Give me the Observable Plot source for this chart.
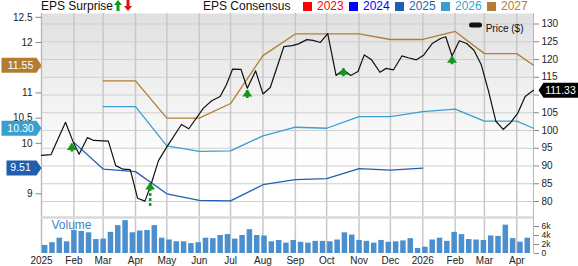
<!DOCTYPE html>
<html><head><meta charset="utf-8">
<script src="https://cdn.jsdelivr.net/npm/d3@7"></script>
<script src="https://cdn.jsdelivr.net/npm/@observablehq/plot@0.6"></script>
<style>
body{margin:0;background:#fff;font-family:"Liberation Sans",Arial,sans-serif;}
#chart{position:relative;width:578px;height:266px;overflow:hidden;}
#legend{position:absolute;left:0;top:0;width:578px;height:13px;font-size:12px;line-height:13px;color:#111;}
#legend span{position:absolute;top:0;white-space:nowrap;}
.layer{position:absolute;left:0;top:13px;}
</style></head><body>
<div id="chart"><div id="legend"></div></div>
<script>
// ---------- data ----------
const priceDates = ["2025-01-01","2025-01-10","2025-01-24","2025-01-31","2025-02-06","2025-02-14","2025-02-20","2025-03-06","2025-03-13","2025-03-20","2025-03-27","2025-04-03","2025-04-10","2025-04-15","2025-04-23","2025-05-01","2025-05-15","2025-05-22","2025-06-05","2025-06-13","2025-06-21","2025-06-27","2025-07-03","2025-07-11","2025-07-17","2025-07-25","2025-08-01","2025-08-08","2025-08-21","2025-08-29","2025-09-04","2025-09-12","2025-09-18","2025-09-25","2025-10-02","2025-10-10","2025-10-17","2025-10-24","2025-10-31","2025-11-06","2025-11-13","2025-11-21","2025-11-27","2025-12-04","2025-12-12","2025-12-18","2025-12-26","2026-01-02","2026-01-10","2026-01-18","2026-01-23","2026-01-29","2026-02-05","2026-02-12","2026-02-19","2026-02-26","2026-03-05","2026-03-12","2026-03-19","2026-03-26","2026-04-02","2026-04-09","2026-04-17"];
const priceValues = [93.0,93.2,102.3,97.0,93.3,98.0,97.2,97.0,90.1,89.1,89.0,80.9,80.1,84.0,91.5,95.4,101.7,100.5,106.3,108.4,109.6,112.9,117.3,117.2,111.9,116.8,110.3,112.1,123.6,123.9,124.4,125.6,125.4,124.8,127.3,115.5,117.1,115.5,116.6,121.3,119.9,116.4,117.5,117.1,121.0,120.5,119.9,121.3,124.5,125.9,126.4,121.0,125.3,124.5,122.6,118.5,111.0,102.6,100.3,102.2,104.9,109.6,111.33];

const consDates = ["2025-02-01","2025-03-01","2025-04-01","2025-05-01","2025-06-01","2025-07-01","2025-08-01","2025-09-01","2025-10-01","2025-11-01","2025-12-01","2026-01-01","2026-02-01","2026-03-01","2026-04-01","2026-04-17"];
const eps2025 = [10.02,9.49,9.44,9.00,8.87,8.86,9.18,9.28,9.30,9.50,9.47,9.51,null,null,null,null];
const eps2026 = [null,10.73,10.73,9.95,9.84,9.85,10.15,10.32,10.30,10.53,10.53,10.63,10.68,10.44,10.44,10.30];
const eps2027 = [null,11.24,11.24,10.50,10.50,10.79,11.74,12.17,12.17,12.17,12.06,12.06,12.22,11.78,11.78,11.55];

const volStart = "2025-01-01";
const volValues = [1.8,2.4,3.4,2.6,5.1,4.9,4.6,3.1,3.2,4.7,6.2,7.3,4.6,5.0,5.1,6.2,3.4,3.0,2.6,2.6,2.2,2.4,3.4,3.3,4.0,4.2,3.2,4.0,5.3,4.0,3.9,2.6,2.9,2.3,
  2.9,2.5,2.3,2.7,2.7,2.6,3.0,4.6,4.1,2.9,2.7,2.3,2.9,2.5,2.6,2.8,3.3,1.1,1.4,3.0,3.4,2.7,4.7,4.2,3.1,3.0,2.9,3.9,3.8,6.3,3.3,2.5,3.4];

const earnDates = ["2025-01-30","2025-04-15","2025-07-17","2025-10-17","2026-01-29"];
const earnTop = [96.2,85.1,111.3,117.4,120.8];
const earnBottom = [93.7,78.5,108.8,114.6,118.3];

const legendYears = ["2023","2024","2025","2026","2027"];
const legendColors = ["#ff0000","#0000ff","#1f5fae","#3a9fd0","#b27d33"];
const priceTicks = [80,85,90,95,100,105,110,115,120,125,130];
const epsTicks = [9,9.5,10,10.5,11,11.5,12,12.5];
const volTicks = [0,2,4,6];

// ---------- derived tables ----------
const P = d3.utcParse("%Y-%m-%d");
const price = priceDates.map((d,i)=>({date:P(d), v:priceValues[i]}));
const cons = yr => consDates.map((d,i)=>({date:P(d), v:yr[i]}));
const vol = volValues.map((v,i)=>({date:d3.utcDay.offset(P(volStart), 7*i), v}));
const earn = earnDates.map((d,i)=>({date:P(d), top:earnTop[i], bottom:earnBottom[i]}));
const lastOf = a => a.filter(v=>v!=null).slice(-1)[0];
const badges = [
  {v:lastOf(eps2027), color:legendColors[4]},
  {v:lastOf(eps2026), color:legendColors[3]},
  {v:lastOf(eps2025), color:legendColors[2]}
];
const lastPrice = priceValues[priceValues.length-1];
// tick labels that sit under a value badge are not shown
const epsLabel = t => badges.some(b => Math.abs(b.v - t) < 0.15) ? "" : d3.format("~g")(t);
const priceLabel = t => Math.abs(lastPrice - t) < 3 ? "" : String(t);

// ---------- layout ----------
const W=578, H=253, ML=41, MR=45, MB=13;
const xDomain=[P("2025-01-01"), P("2026-04-17")];
const months = d3.utcMonth.range(P("2025-01-01"), P("2026-04-18"));
const font = "Liberation Sans, Arial, sans-serif";
const base = {width:W, height:H, marginLeft:ML, marginRight:MR, marginTop:0, marginBottom:MB,
  x:{type:"utc", domain:xDomain, axis:null, label:null},
  style:{background:"transparent", fontFamily:font, fontSize:"10px", color:"#222", overflow:"visible"}};
const priceY = {domain:[80,130], range:[188,10.5], axis:null, label:null};

// custom symbols
const leftBadge = w => ({draw(c){c.moveTo(-w,-7.5);c.lineTo(-5,-7.5);c.lineTo(0,0);c.lineTo(-5,7.5);c.lineTo(-w,7.5);c.closePath();}});
const rightBadge = {draw(c){c.moveTo(5,0);c.lineTo(10,-7.5);c.lineTo(45,-7.5);c.lineTo(45,7.5);c.lineTo(10,7.5);c.closePath();}};
const head = {draw(c){c.moveTo(0,-1);c.lineTo(5,6);c.lineTo(-5,6);c.closePath();}};
const swatch = {draw(c){c.moveTo(-4,-2.5);c.lineTo(4,-2.5);c.arc(4,0,2.5,-Math.PI/2,Math.PI/2);c.lineTo(-4,2.5);c.arc(-4,0,2.5,Math.PI/2,3*Math.PI/2);c.closePath();}};
const leftTick = {draw(c){c.moveTo(-6,0);c.lineTo(0,0);}};

const gradient = () => {
  const defs = document.createElementNS("http://www.w3.org/2000/svg","defs");
  defs.innerHTML = '<linearGradient id="bggrad" x1="0" y1="0" x2="0" y2="1"><stop offset="0" stop-color="#e0e0e0"/><stop offset="0.62" stop-color="#ffffff"/></linearGradient>';
  return defs;
};

// Layer A: background, grid, axes (x, price)
const A = Plot.plot({...base, y:priceY, marks:[
  gradient,
  Plot.frame({fill:"url(#bggrad)", stroke:null}),
  Plot.ruleY(priceTicks, {stroke:"#cfcfcf", strokeWidth:1.2}),
  Plot.ruleX(months, {stroke:"#c8c8c8", strokeWidth:1.5}),
  Plot.ruleX(xDomain, {stroke:"#b8b8b8", strokeWidth:1}),
  Plot.axisX({ticks:months, tickFormat:d=>d.getUTCMonth()===0?String(d.getUTCFullYear()):d3.utcFormat("%b")(d), tickSize:0, tickPadding:3, fontSize:10, fill:"#222", label:null}),
  Plot.axisY({anchor:"right", ticks:priceTicks, tickFormat:priceLabel, tickSize:5, tickPadding:3, fontSize:10, fill:"#222", stroke:"#888", label:null})
]});

// Layer V: volume
const V = Plot.plot({...base, y:{domain:[0,6], range:[240,213], axis:null, label:null}, marks:[
  Plot.ruleY([8], {stroke:"#d9d9d9", strokeWidth:2.5}),
  Plot.rectY(vol, {x1:"date", x2:d=>d3.utcDay.offset(d.date,7), y:"v", fill:"#4b8fcf", insetLeft:0.9, insetRight:0.9}),
  Plot.axisY({anchor:"right", ticks:volTicks, tickFormat:d=>d?d+"k":"0", tickSize:5, tickPadding:3, fontSize:8.5, fill:"#222", stroke:"#888", label:null}),
  Plot.text(["Volume"], {frameAnchor:"bottom-left", dx:10, dy:-25, textAnchor:"start", fill:"#3d85c6", fontSize:12})
]});

// Layer E: EPS consensus (left axis)
const E = Plot.plot({...base, y:{domain:[9,12.5], range:[180.3,3.8], axis:null, label:null}, color:{type:"identity"}, marks:[
  Plot.dot(epsTicks, {y:d=>d, frameAnchor:"left", symbol:leftTick, stroke:"#888", strokeWidth:1}),
  Plot.text(epsTicks, {y:d=>d, frameAnchor:"left", dx:-9, textAnchor:"end", text:epsLabel, fill:"#222", fontSize:10}),
  Plot.line(cons(eps2025), {x:"date", y:"v", stroke:legendColors[2], strokeWidth:1.3}),
  Plot.line(cons(eps2026), {x:"date", y:"v", stroke:legendColors[3], strokeWidth:1.3}),
  Plot.line(cons(eps2027), {x:"date", y:"v", stroke:legendColors[4], strokeWidth:1.3}),
  ...badges.map(b => Plot.dot([b], {y:"v", frameAnchor:"left", symbol:leftBadge(b.v>=10?40:35), fill:"color"})),
  Plot.text(badges, {y:"v", frameAnchor:"left", dx:-21, text:d=>d.v.toFixed(2), fill:"white", fontSize:10.5, textAnchor:"middle"})
]});

// Layer P: price, earnings arrows, price badge
const Pp = Plot.plot({...base, y:priceY, marks:[
  Plot.line(price, {x:"date", y:"v", stroke:"#111", strokeWidth:1.2}),
  Plot.ruleX(earn, {x:"date", y1:"top", y2:"bottom", stroke:"#15961a", strokeWidth:2.6, strokeDasharray:"3,2"}),
  Plot.dot(earn, {x:"date", y:"top", symbol:head, fill:"#15961a"}),
  Plot.dot([lastPrice], {y:d=>d, frameAnchor:"right", symbol:rightBadge, fill:"#000"}),
  Plot.text([lastPrice], {y:d=>d, frameAnchor:"right", dx:27, text:d=>d.toFixed(2), fill:"white", fontSize:10.5, textAnchor:"middle"}),
  Plot.dot([0], {frameAnchor:"top-right", dx:-58, dy:11.5, symbol:swatch, fill:"#111"}),
  Plot.text(["Price ($)"], {frameAnchor:"top-right", dx:-10, dy:11.5, textAnchor:"end", fill:"#111", fontSize:10})
]});

const chart = document.getElementById("chart");
for (const s of [A, V, E, Pp]) { s.classList.add("layer"); chart.appendChild(s); }

// Legend
const lg = document.getElementById("legend");
const arrowSvg = (col, up) => `<svg width="8" height="11" viewBox="0 0 8 11" style="vertical-align:-1px"><path d="${up?"M4 0 L8 5 L5.5 5 L5.5 11 L2.5 11 L2.5 5 L0 5 Z":"M4 11 L8 6 L5.5 6 L5.5 0 L2.5 0 L2.5 6 L0 6 Z"}" fill="${col}"/></svg>`;
let html = `<span style="left:41px">EPS Surprise</span><span style="left:114px">${arrowSvg("#119911",true)}</span><span style="left:124px">${arrowSvg("#e01010",false)}</span><span style="left:203px">EPS Consensus</span>`;
legendYears.forEach((y,i)=>{
  const x = 303 + i*46;
  html += `<span style="left:${x}px;top:2px;width:9px;height:9px;background:${legendColors[i]}"></span><span style="left:${x+14}px;color:${legendColors[i]}">${y}</span>`;
});
lg.innerHTML = html;
chart.appendChild(lg);
</script></body></html>
